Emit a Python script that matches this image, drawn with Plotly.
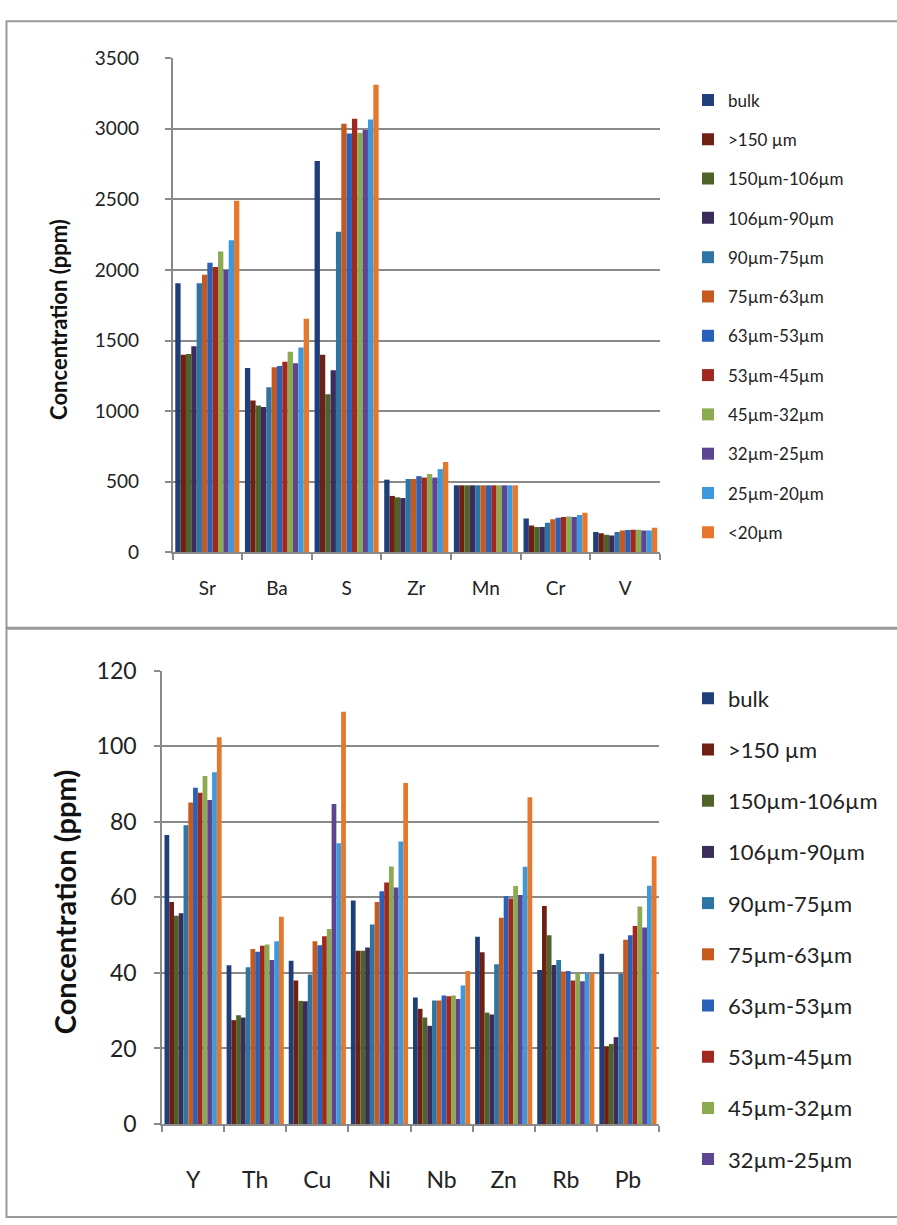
import plotly.graph_objects as go

W, H = 897, 1225

series = ["bulk", ">150 µm", "150µm-106µm", "106µm-90µm", "90µm-75µm", "75µm-63µm",
          "63µm-53µm", "53µm-45µm", "45µm-32µm", "32µm-25µm", "25µm-20µm", "<20µm"]
colors = ["#1F3F7A", "#6E2015", "#4F6228", "#3B2C5C", "#2E75A6", "#C65A1E",
          "#2A60B8", "#A0281F", "#8CAB50", "#5E4593", "#3B99DC", "#E5782C"]

top_cats = ["Sr", "Ba", "S", "Zr", "Mn", "Cr", "V"]
# values per series, in order of top_cats
top_bulk = [1905, 1305, 2770, 515, 475, 240, 145]
top_gt150 = [1400, 1075, 1400, 400, 475, 190, 135]
top_150_106 = [1405, 1040, 1120, 390, 475, 180, 125]
top_106_90 = [1460, 1030, 1290, 385, 475, 180, 120]
top_90_75 = [1905, 1170, 2270, 520, 475, 210, 145]
top_75_63 = [1965, 1310, 3035, 520, 475, 235, 155]
top_63_53 = [2050, 1320, 2965, 540, 475, 245, 158]
top_53_45 = [2020, 1350, 3070, 530, 475, 250, 160]
top_45_32 = [2130, 1420, 2970, 555, 475, 255, 160]
top_32_25 = [2000, 1340, 2990, 530, 475, 250, 156]
top_25_20 = [2210, 1450, 3065, 590, 475, 265, 155]
top_lt20 = [2490, 1655, 3310, 640, 475, 280, 175]
top_vals = [top_bulk, top_gt150, top_150_106, top_106_90, top_90_75, top_75_63,
            top_63_53, top_53_45, top_45_32, top_32_25, top_25_20, top_lt20]

bot_cats = ["Y", "Th", "Cu", "Ni", "Nb", "Zn", "Rb", "Pb"]
bot_bulk = [76.5, 42.0, 43.2, 59.2, 33.5, 49.6, 40.8, 45.1]
bot_gt150 = [58.8, 27.5, 38.0, 45.9, 30.5, 45.5, 57.7, 20.6]
bot_150_106 = [55.1, 28.8, 32.6, 45.9, 28.2, 29.5, 50.0, 21.2]
bot_106_90 = [55.8, 28.2, 32.5, 46.7, 26.0, 29.0, 42.1, 23.0]
bot_90_75 = [79.1, 41.5, 39.6, 52.8, 32.7, 42.3, 43.4, 39.8]
bot_75_63 = [85.1, 46.3, 48.4, 58.8, 32.7, 54.6, 40.4, 48.8]
bot_63_53 = [89.0, 45.6, 47.3, 61.6, 34.0, 60.3, 40.5, 50.0]
bot_53_45 = [87.7, 47.2, 49.7, 63.9, 33.8, 59.7, 38.0, 52.4]
bot_45_32 = [92.1, 47.5, 51.6, 68.2, 34.0, 63.0, 40.0, 57.6]
bot_32_25 = [85.8, 43.4, 84.7, 62.6, 33.1, 60.6, 37.8, 52.0]
bot_25_20 = [93.1, 48.4, 74.3, 74.8, 36.7, 68.1, 40.0, 63.1]
bot_lt20 = [102.4, 54.9, 109.1, 90.3, 40.5, 86.5, 40.0, 70.9]
bot_vals = [bot_bulk, bot_gt150, bot_150_106, bot_106_90, bot_90_75, bot_75_63,
            bot_63_53, bot_53_45, bot_45_32, bot_32_25, bot_25_20, bot_lt20]

top_ticks = [0, 500, 1000, 1500, 2000, 2500, 3000, 3500]
bot_ticks = [0, 20, 40, 60, 80, 100, 120]

FONT = "Lato"
GRID = "#8a8a8a"

fig = go.Figure()
for i, name in enumerate(series):
    fig.add_trace(go.Bar(x=top_cats, y=top_vals[i], name=name, marker_color=colors[i],
                         marker_line_width=0, xaxis="x", yaxis="y", legend="legend",
                         legendgroup="t%d" % i))
for i, name in enumerate(series):
    fig.add_trace(go.Bar(x=bot_cats, y=bot_vals[i], name=name, marker_color=colors[i],
                         marker_line_width=0, xaxis="x2", yaxis="y2", legend="legend2",
                         legendgroup="b%d" % i, showlegend=(i < 10)))

def px_x(x):
    return x / W

def px_y(y):
    return 1 - y / H

axis_common = dict(showline=True, linecolor=GRID, linewidth=1.5, ticks="outside",
                   tickcolor=GRID, tickwidth=1.5, ticklen=6, color="#222")

fig.update_layout(
    width=W, height=H,
    margin=dict(l=0, r=0, t=0, b=0),
    paper_bgcolor="white", plot_bgcolor="white",
    barmode="group", bargap=0.08, bargroupgap=0,
    font=dict(family=FONT, color="#222"),
    xaxis=dict(domain=[px_x(172.5), px_x(660)], anchor="y", type="category",
               categoryorder="array", categoryarray=top_cats, tickson="boundaries",
               showgrid=False, tickfont=dict(size=19), ticklabelstandoff=18, **axis_common),
    yaxis=dict(domain=[px_y(550), px_y(44)], anchor="x", range=[0, 3500],
               tickvals=top_ticks, showgrid=True, gridcolor=GRID, gridwidth=1.5,
               zeroline=False, tickfont=dict(size=19), ticklabelstandoff=22, **axis_common),
    xaxis2=dict(domain=[px_x(162), px_x(659)], anchor="y2", type="category",
                categoryorder="array", categoryarray=bot_cats, tickson="boundaries",
                showgrid=False, tickfont=dict(size=23), ticklabelstandoff=35, **axis_common),
    yaxis2=dict(domain=[px_y(1135), px_y(671)], anchor="x2", range=[0, 120],
                tickvals=bot_ticks, showgrid=True, gridcolor=GRID, gridwidth=1.5,
                zeroline=False, tickfont=dict(size=23), ticklabelstandoff=13, **axis_common),
    legend=dict(x=px_x(688), y=px_y(69), xanchor="left", yanchor="top",
                font=dict(size=17, color="#222"), tracegroupgap=14.2, itemwidth=30,
                bgcolor="rgba(0,0,0,0)"),
    legend2=dict(x=px_x(688), y=px_y(678), xanchor="left", yanchor="top",
                 font=dict(size=22, color="#222"), tracegroupgap=19.6, itemwidth=30,
                 bgcolor="rgba(0,0,0,0)"),
    showlegend=True,
)

fig.add_annotation(text="<b>Concentration (ppm)</b>", textangle=-90, x=px_x(59), y=px_y(311),
                   xanchor="center", yanchor="middle",
                   xref="paper", yref="paper", showarrow=False, font=dict(size=22, color="#111"))
fig.add_annotation(text="<b>Concentration (ppm)</b>", textangle=-90, x=px_x(64), y=px_y(908),
                   xanchor="center", yanchor="middle",
                   xref="paper", yref="paper", showarrow=False, font=dict(size=29, color="#111"))

# panel frames
fig.add_shape(type="rect", xref="paper", yref="paper", x0=px_x(6.5), x1=px_x(900),
              y0=px_y(627), y1=px_y(6.5), line=dict(color="#9a9a9a", width=2))
fig.add_shape(type="rect", xref="paper", yref="paper", x0=px_x(6.5), x1=px_x(900),
              y0=px_y(1230), y1=px_y(628), line=dict(color="#9a9a9a", width=2))

fig.write_html("out.html")
